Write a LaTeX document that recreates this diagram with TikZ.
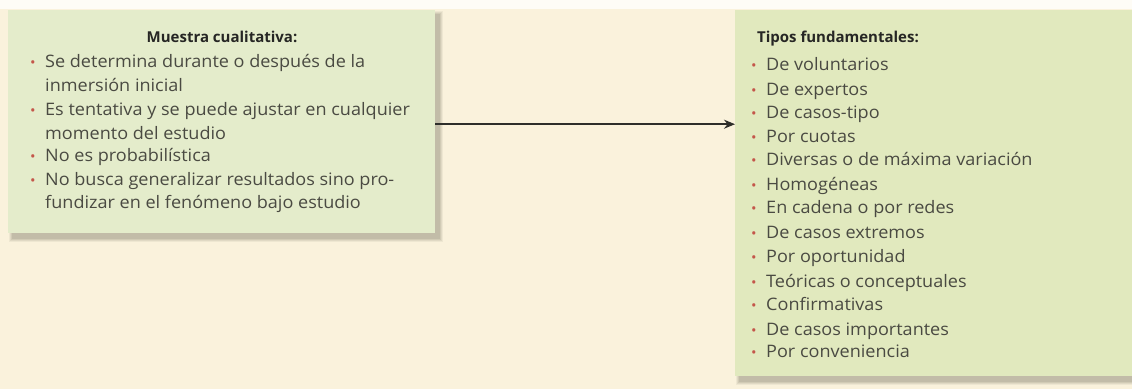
\documentclass[tikz,border=0pt]{standalone}
\usepackage{fontspec}
\setmainfont{Open Sans}
\newfontfamily\bodyfont[FakeStretch=1.05]{Open Sans}
\usetikzlibrary{arrows.meta}
\definecolor{cream}{HTML}{FAF2DC}
\definecolor{topwhite}{HTML}{FEFCF6}
\definecolor{lboxc}{HTML}{E4ECCB}
\definecolor{rboxc}{HTML}{E1E9BE}
\definecolor{shadc}{HTML}{8E8A78}
\definecolor{txtc}{HTML}{4A4A42}
\definecolor{titc}{HTML}{262624}
\definecolor{bulc}{HTML}{C4564A}
\definecolor{arrc}{HTML}{2E2E2A}
\newcommand{\bulmark}{\makebox[15pt][l]{\textcolor{bulc}{\fontsize{14}{14}\selectfont\textbullet}}}
\begin{document}
\begin{tikzpicture}[x=1pt,y=-1pt,
  panel/.style={rectangle, inner sep=0pt, draw=none, anchor=north west},
  line/.style={anchor=base west, inner sep=0pt, text=txtc, font=\bodyfont\fontsize{17.2}{20}\selectfont},
  title/.style={anchor=base, inner sep=0pt, text=titc, font=\fontsize{15}{18}\selectfont\bfseries},
  conn/.style={draw=arrc, line width=1.8pt, -{Stealth[length=11pt,width=9pt]}}]
\useasboundingbox (0,0) rectangle (1132,389);
\clip (0,0) rectangle (1132,389);
\fill[cream] (0,0) rectangle (1132,389);
\fill[topwhite] (0,0) rectangle (1132,9);
% shadows
\foreach \d/\op in {0/0.22,1/0.18,2/0.14,3/0.1}{
  \fill[shadc, opacity=\op] (12-\d,14-\d) rectangle (440+\d,239+\d);
  \fill[shadc, opacity=\op] (739-\d,14-\d) rectangle (1140,382+\d);
}
\node[panel, fill=lboxc, minimum width=427pt, minimum height=223pt] (lbox) at (8,10) {};
\node[panel, fill=rboxc, minimum width=420pt, minimum height=366pt] (rbox) at (735,10) {};
% left texts
\node[title] (ltitle) at (222,42) {Muestra cualitativa:};
\foreach \n/\y/\b/\t in {1/67/1/Se determina durante o después de la,
  2/91/0/inmersión inicial,
  3/115/1/Es tentativa y se puede ajustar en cualquier,
  4/139/0/momento del estudio,
  5/161/1/No es probabilística,
  6/185/1/No busca generalizar resultados sino pro-,
  7/208/0/fundizar en el fenómeno bajo estudio}{
  \node[line] (l\n) at (30,\y) {\ifnum\b=1 \bulmark\else\hspace*{15pt}\fi\t};
}
% right texts
\node[title] (rtitle) at (838,42) {Tipos fundamentales:};
\foreach \n/\y/\t in {1/70/De voluntarios,
  2/95/De expertos,
  3/118/De casos-tipo,
  4/142/Por cuotas,
  5/165/Diversas o de máxima variación,
  6/190/Homogéneas,
  7/213/En cadena o por redes,
  8/238/De casos extremos,
  9/262/Por oportunidad,
  10/287/Teóricas o conceptuales,
  11/310/Confirmativas,
  12/335/De casos importantes,
  13/357/Por conveniencia}{
  \node[line] (r\n) at (751,\y) {\bulmark\t};
}
\draw[conn] ([yshift=-2.5pt]lbox.east) -- ([yshift=-2.5pt]lbox.east -| rbox.west);
\end{tikzpicture}
\end{document}
